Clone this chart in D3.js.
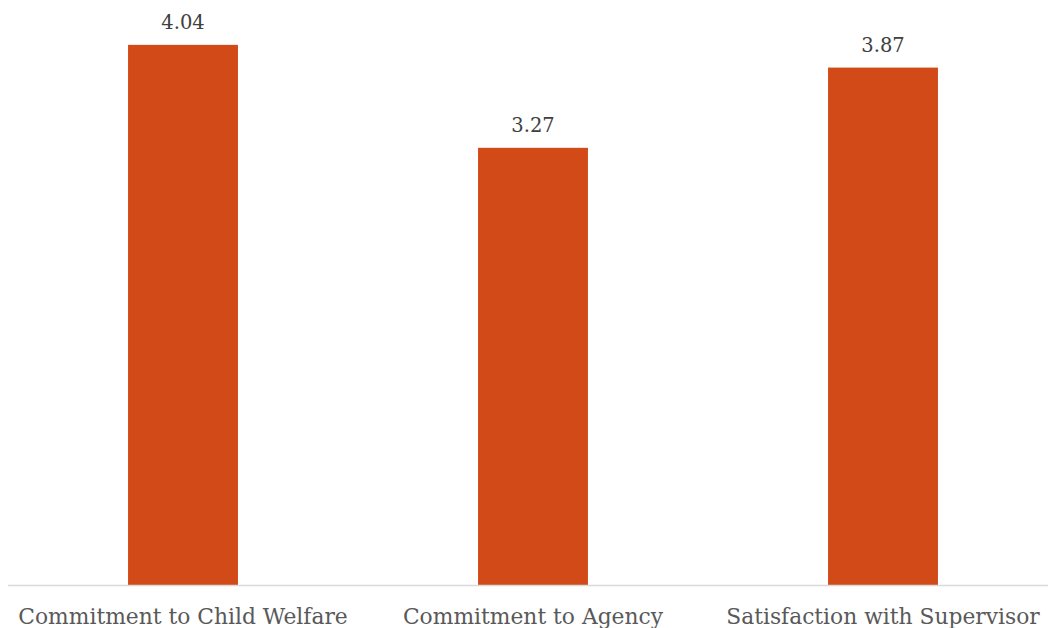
<!DOCTYPE html>
<html>
<head>
<meta charset="utf-8">
<script src="https://cdn.jsdelivr.net/npm/d3@7"></script>
<style>
  html, body { margin: 0; padding: 0; background: #ffffff; }
  svg { display: block; }
</style>
</head>
<body>
<svg id="chart" width="1048" height="628"></svg>
<script>
// Mean scores by measure
const categories = ["Commitment to Child Welfare", "Commitment to Agency", "Satisfaction with Supervisor"];
const values = [4.04, 3.27, 3.87];
const valueLabels = ["4.04", "3.27", "3.87"];

const svg = d3.select("#chart");
const W = 1048, H = 628;
const baseline = 585;
const fontFamily = "'DejaVu Serif', serif";

const x = d3.scaleBand()
  .domain(categories)
  .range([8, 1058])
  .paddingInner(0.686)
  .paddingOuter(0.343);

const y = d3.scaleLinear()
  .domain([0, 4.5])
  .range([baseline, baseline - 4.5 * 133.7]);

// Bars
svg.append("g")
  .selectAll("rect")
  .data(values)
  .join("rect")
  .attr("x", (d, i) => x(categories[i]))
  .attr("y", d => y(d))
  .attr("width", x.bandwidth())
  .attr("height", d => y(0) - y(d))
  .attr("fill", "#D24A17");

// Category axis
const axis = svg.append("g")
  .attr("transform", `translate(0,${baseline})`)
  .call(d3.axisBottom(x).tickSize(0).tickPadding(0));
axis.select(".domain")
  .attr("stroke", "#d9d9d9")
  .attr("stroke-width", 1.5)
  .attr("d", `M8,0.5H${W}`);
axis.selectAll(".tick text")
  .attr("y", 39)
  .attr("dy", 0)
  .attr("fill", "#595959")
  .style("font-family", fontFamily)
  .style("font-size", "21.8px");

// Value labels above bars
svg.append("g")
  .selectAll("text")
  .data(values)
  .join("text")
  .attr("x", (d, i) => x(categories[i]) + x.bandwidth() / 2)
  .attr("y", d => y(d) - 16)
  .attr("text-anchor", "middle")
  .attr("fill", "#404040")
  .style("font-family", fontFamily)
  .style("font-size", "19.5px")
  .text((d, i) => valueLabels[i]);
</script>
</body>
</html>
